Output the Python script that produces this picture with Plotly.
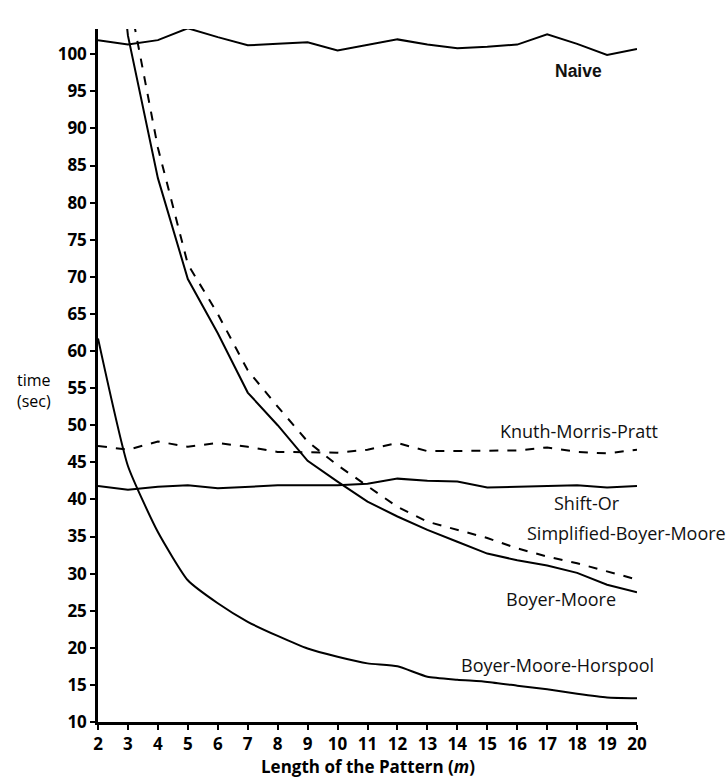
import plotly.graph_objects as go

m = list(range(2, 21))
naive = [101.9, 101.3, 101.9, 103.5, 102.3, 101.2, 101.4, 101.6, 100.5, 101.2,
         102.0, 101.3, 100.8, 101.0, 101.3, 102.7, 101.4, 99.9, 100.7]
kmp = [47.2, 46.7, 47.8, 47.1, 47.6, 47.1, 46.4, 46.4, 46.3, 46.7,
       47.6, 46.5, 46.5, 46.5, 46.6, 47.0, 46.4, 46.2, 46.7]
shift_or = [41.8, 41.3, 41.7, 41.9, 41.5, 41.7, 41.9, 41.9, 41.9, 42.1,
            42.8, 42.5, 42.4, 41.6, 41.7, 41.9, 41.9, 41.6, 41.8]
sbm = [150.0, 108.4, 87.4, 71.7, 65.0, 57.4, 52.5, 47.8, 44.6, 41.8,
       39.0, 37.0, 35.9, 34.8, 33.4, 32.3, 31.4, 30.3, 29.2]
bm = [140.0, 102.5, 83.3, 69.7, 62.4, 54.4, 50.0, 45.2, 42.4, 39.7,
      37.7, 35.9, 34.3, 32.7, 31.8, 31.1, 30.1, 28.5, 27.5]
bmh = [61.7, 44.5, 35.6, 29.1, 26.0, 23.5, 21.6, 19.9, 18.8, 17.9,
       17.5, 16.1, 15.7, 15.4, 14.9, 14.4, 13.8, 13.3, 13.2]

series = [
    ("Naive", naive, "solid", "linear"),
    ("Knuth-Morris-Pratt", kmp, "dash", "linear"),
    ("Shift-Or", shift_or, "solid", "linear"),
    ("Simplified-Boyer-Moore", sbm, "dash", "linear"),
    ("Boyer-Moore", bm, "solid", "linear"),
    ("Boyer-Moore-Horspool", bmh, "solid", "spline"),
]

labels = [
    ("Naive", 18.03, 97.7),
    ("Knuth-Morris-Pratt", 18.07, 49.2),
    ("Shift-Or", 18.33, 39.5),
    ("Simplified-Boyer-Moore", 19.64, 35.5),
    ("Boyer-Moore", 17.46, 26.6),
    ("Boyer-Moore-Horspool", 17.33, 17.7),
]

FONT = "Open Sans"

fig = go.Figure()
for name, vals, dash, shape in series:
    fig.add_trace(go.Scatter(
        x=m, y=vals, mode="lines", name=name,
        line=dict(color="black", width=2, dash=dash, shape=shape, smoothing=0.5),
        showlegend=False, cliponaxis=True,
    ))

for text, lx, ly in labels:
    fig.add_annotation(
        x=lx, y=ly, xref="x", yref="y", text=text, showarrow=False,
        xanchor="center", yanchor="middle",
        font=dict(family=FONT if text != "Naive" else "Liberation Sans",
                  size=17.5 if text == "Naive" else 18,
                  color="#111111", weight=700 if text == "Naive" else 400),
    )

fig.add_annotation(
    x=-0.119, y=54.7, xref="paper", yref="y", text="time<br>(sec)",
    showarrow=False, xanchor="center", yanchor="middle", align="left",
    font=dict(family=FONT, size=16, color="black"),
)
fig.add_annotation(
    x=0.5, y=-0.064, xref="paper", yref="paper",
    text="Length of the Pattern (<i>m</i>)", showarrow=False,
    xanchor="center", yanchor="middle",
    font=dict(family=FONT, size=17, color="black", weight=700),
)

fig.update_layout(
    width=728, height=777,
    margin=dict(l=98, r=91, t=29, b=55),
    paper_bgcolor="white", plot_bgcolor="white",
    font=dict(family=FONT, color="black"),
)
fig.update_xaxes(
    range=[2, 20], tickmode="array", tickvals=m, ticktext=[str(v) for v in m],
    showgrid=False, zeroline=False, showline=True, linecolor="black", linewidth=2.5,
    ticks="outside", ticklen=5, tickwidth=2, tickcolor="black",
    tickfont=dict(family=FONT, size=17, color="black", weight=700),
)
fig.update_yaxes(
    range=[10, 103.4], tickmode="array", tickvals=list(range(10, 101, 5)),
    showgrid=False, zeroline=False, showline=True, linecolor="black", linewidth=2.5,
    ticks="outside", ticklen=5, tickwidth=2, tickcolor="black",
    tickfont=dict(family=FONT, size=17, color="black", weight=700),
)

fig.write_html("out.html")
